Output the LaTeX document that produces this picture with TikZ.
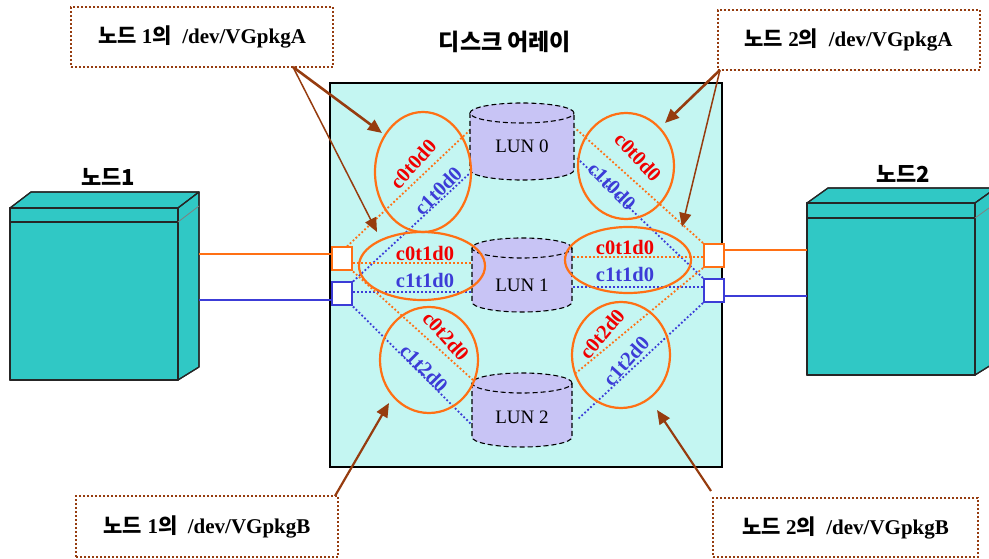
\documentclass[tikz,border=0pt]{standalone}
\usepackage{fontspec}
\setmainfont{Liberation Serif}
\newfontfamily\kr{Noto Sans CJK KR}
\usetikzlibrary{arrows.meta}
\definecolor{ArrayCyan}{RGB}{196,246,242}
\definecolor{ServerTeal}{RGB}{48,200,197}
\definecolor{DiskLilac}{RGB}{200,196,245}
\definecolor{PathOrange}{RGB}{255,112,20}
\definecolor{PathBlue}{RGB}{60,60,215}
\definecolor{TagRed}{RGB}{240,0,0}
\definecolor{NoteBrown}{RGB}{150,60,15}
\tikzset{
  server/.style={draw=black!85,line width=1.2pt,fill=ServerTeal,line join=round},
  port/.style={draw=#1,line width=2pt,fill=white,minimum width=20pt,
    minimum height=23pt,inner sep=0pt},
  disk/.style={draw=black,line width=1.1pt,dash pattern=on 5pt off 3pt,fill=DiskLilac},
  ring/.style={draw=PathOrange,line width=2.2pt},
  odot/.style={draw=PathOrange,line width=1.8pt,dash pattern=on 1.8pt off 2.2pt},
  bdot/.style={draw=PathBlue,line width=1.8pt,dash pattern=on 1.8pt off 2.2pt},
  link/.style={draw=#1,line width=2pt},
  ctag/.style={font=\fontsize{20.5}{22}\selectfont\bfseries,inner sep=0pt},
  title/.style={font=\kr\fontsize{22}{26}\selectfont\bfseries},
  callout/.style={draw=NoteBrown,line width=2pt,dash pattern=on 2pt off 2pt,fill=white,
    minimum width=262pt,minimum height=60pt,font=\fontsize{21}{24}\selectfont\bfseries},
  pointer/.style={draw=NoteBrown,line width=#1,-{Triangle[length=14pt,width=12pt]}},
}

\begin{document}
\begin{tikzpicture}[x=1pt,y=1pt]
  \useasboundingbox (0,0) rectangle (989,558);

  % disk array enclosure
  \draw[fill=ArrayCyan,line width=2pt] (330,91) rectangle (722,475);
  \node[title,font=\kr\fontsize{23}{26}\selectfont\bfseries] (arr) at (505,516) {디스크 어레이};

  % the two servers
  \begin{scope}[xshift=10,yshift=178]
    \fill[server] (0,0) rectangle (168,172);
    \fill[server] (0,172) -- (21,188) -- (189,188) -- (168,172) -- cycle;
    \fill[server] (168,172) -- (189,188) -- (189,13) -- (168,0) -- cycle;
    \draw[server,fill=none] (0,0) rectangle (168,172) (0,158) -- (168,158);
    \draw[server,fill=none] (0,172) -- (21,188) -- (189,188) -- (168,172)
      (189,188) -- (189,13) -- (168,0);
    \draw[gray,line width=0.8pt] (168,158) -- (189,174);
    \coordinate (n1o) at (189,126);
    \coordinate (n1b) at (189,80);
  \end{scope}
  \node[title] (srv1) at (108,381) {노드1};
  \begin{scope}[xshift=807,yshift=183]
    \fill[server] (0,0) rectangle (168,172);
    \fill[server] (0,172) -- (21,187) -- (189,187) -- (168,172) -- cycle;
    \fill[server] (168,172) -- (189,187) -- (189,13) -- (168,0) -- cycle;
    \draw[server,fill=none] (0,0) rectangle (168,172) (0,157) -- (168,157);
    \draw[server,fill=none] (0,172) -- (21,187) -- (189,187) -- (168,172)
      (189,187) -- (189,13) -- (168,0);
    \draw[gray,line width=0.8pt] (168,157) -- (189,172);
    \coordinate (n2o) at (0,125);
    \coordinate (n2b) at (0,79);
  \end{scope}
  \node[title] (srv2) at (903,384) {노드2};

  % controller ports
  \node[port=PathOrange] (p1o) at (342,299) {};
  \node[port=PathBlue] (p1b) at (342,264) {};
  \node[port=PathOrange] (p2o) at (714,302.5) {};
  \node[port=PathBlue] (p2b) at (714,267.5) {};
  \draw[link=PathOrange] (n1o) -- (p1o.west |- n1o);
  \draw[link=PathBlue] (n1b) -- (p1b.west |- n1b);
  \draw[link=PathOrange] (n2o) -- (p2o.east |- n2o);
  \draw[link=PathBlue] (n2b) -- (p2b.east |- n2b);

  % where the paths meet the LUNs
  \coordinate (l0a) at (470,428);
  \coordinate (l0b) at (470,385);
  \coordinate (l0c) at (575,430);
  \coordinate (l0d) at (577,400);
  \coordinate (l1a) at (473,295);
  \coordinate (l1b) at (473,266);
  \coordinate (l1c) at (572,301);
  \coordinate (l1d) at (572,271);
  \coordinate (l2a) at (473,178);
  \coordinate (l2b) at (472,133);
  \coordinate (l2c) at (576,185);
  \coordinate (l2d) at (577,138);

  \draw[odot] (p1o.north) ++(5,0) -- (l0a);
  \draw[bdot] (p1b.north east) -- (l0b);
  \draw[odot] (p1o.east |- l1a) -- (l1a);
  \draw[bdot] (p1b.east |- l1b) -- (l1b);
  \draw[odot] (p1o.south east) -- (l2a);
  \draw[bdot] (p1b.south east) -- (l2b);
  \draw[odot] (p2o.north west) -- (l0c);
  \draw[bdot] (p2b.north west) -- (l0d);
  \draw[odot] (p2o.west |- l1c) -- (l1c);
  \draw[bdot] (p2b.west |- l1d) -- (l1d);
  \draw[odot] (p2o.south west) -- (l2c);
  \draw[bdot] (p2b.south west) -- (l2d);

  % LUN cylinders
  \foreach \n/\t/\b/\l/\r in {0/445/388/412/52,1/310/256/273/50,2/175/121/141/50} {
    \filldraw[disk] (522-\r,\t) -- (522-\r,\b)
      arc[start angle=180,end angle=360,x radius=\r,y radius=10] -- (522+\r,\t);
    \filldraw[disk] (522,\t) ellipse[x radius=\r,y radius=10];
    \node[font=\fontsize{19}{21}\selectfont] (lun\n) at (522,\l) {LUN \n};
  }

  % device paths per LUN
  \draw[ring] (423,386) ellipse[x radius=48,y radius=60];
  \draw[ring] (626,392) ellipse[x radius=48,y radius=53];
  \draw[ring] (422,292) ellipse[x radius=63,y radius=34];
  \draw[ring] (628,298) ellipse[x radius=63,y radius=33];
  \draw[ring] (429,198) ellipse[x radius=49,y radius=53];
  \draw[ring] (621,203) ellipse[x radius=49,y radius=53];

  \node[ctag,TagRed,rotate=48] (t00) at (413,394) {c0t0d0};
  \node[ctag,PathBlue,rotate=45] (t01) at (438,367) {c1t0d0};
  \node[ctag,TagRed,rotate=-47] (t02) at (638,401) {c0t0d0};
  \node[ctag,PathBlue,rotate=-45] (t03) at (612,372) {c1t0d0};
  \node[ctag,TagRed] (t10) at (425,305) {c0t1d0};
  \node[ctag,PathBlue] (t11) at (425,278) {c1t1d0};
  \node[ctag,TagRed] (t12) at (625,311) {c0t1d0};
  \node[ctag,PathBlue] (t13) at (625,284) {c1t1d0};
  \node[ctag,TagRed,rotate=-48] (t20) at (446,222) {c0t2d0};
  \node[ctag,PathBlue,rotate=-45] (t21) at (424,190) {c1t2d0};
  \node[ctag,TagRed,rotate=50] (t22) at (602,224) {c0t2d0};
  \node[ctag,PathBlue,rotate=48] (t23) at (626,197) {c1t2d0};

  % volume group callouts
  \node[callout] (vA1) at (202,521) {{\kr 노드} 1{\kr 의}\ \ /dev/VGpkgA};
  \node[callout] (vA2) at (848.5,518) {{\kr 노드} 2{\kr 의}\ \ /dev/VGpkgA};
  \node[callout,minimum height=61pt] (vB1) at (207,31.5) {{\kr 노드} 1{\kr 의}\ \ /dev/VGpkgB};
  \node[callout,minimum width=265pt,minimum height=59pt] (vB2) at (845.5,30.5)
    {{\kr 노드} 2{\kr 의}\ \ /dev/VGpkgB};

  \coordinate (sA1) at (293,491);
  \coordinate (sA2) at (720,488);
  \coordinate (sB1) at (335,62);
  \coordinate (sB2) at (711,67);
  \coordinate (hA1) at (382,425);
  \coordinate (hA1b) at (377,326);
  \coordinate (hA2) at (665,435);
  \coordinate (hA2b) at (682,331);
  \coordinate (hB1) at (389,155);
  \coordinate (hB2) at (657,148);
  \draw[pointer=2.6pt] (sA1) -- (hA1);
  \draw[pointer=1.5pt] (sA1) -- (hA1b);
  \draw[pointer=2.6pt] (sA2) -- (hA2);
  \draw[pointer=1.5pt] (sA2) -- (hA2b);
  \draw[pointer=2.2pt] (sB1) -- (hB1);
  \draw[pointer=2.2pt] (sB2) -- (hB2);
\end{tikzpicture}
\end{document}
